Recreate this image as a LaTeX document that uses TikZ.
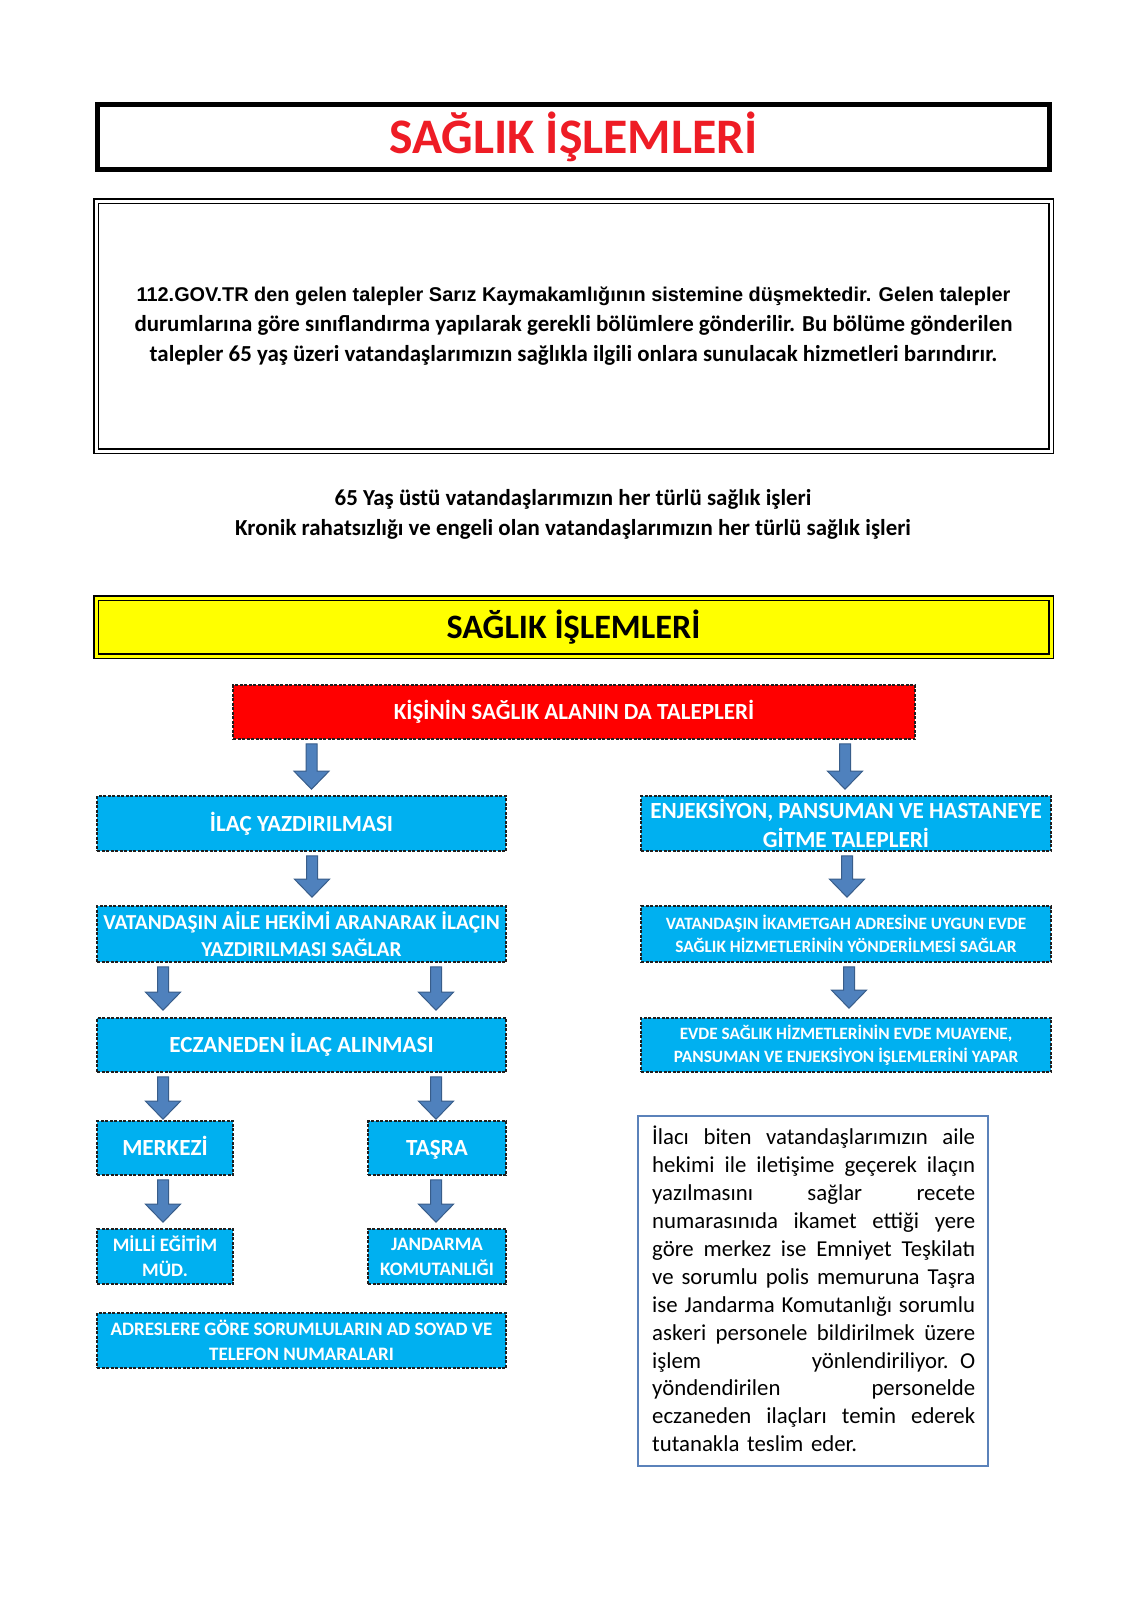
\documentclass[tikz,border=0pt]{standalone}
\usepackage{fontspec}
\setmainfont{Carlito}
\newfontfamily\arialfont{Liberation Sans}
\usetikzlibrary{calc}
\definecolor{boxblue}{HTML}{00B0F0}
\definecolor{arrfill}{HTML}{4F81BD}
\definecolor{arrdraw}{HTML}{385D8A}
\definecolor{titlered}{HTML}{EE1C25}
\definecolor{boxred}{HTML}{FF0000}
\definecolor{boxyellow}{HTML}{FFFF00}
\definecolor{dashcol}{HTML}{1E1E1E}
\definecolor{tframe}{HTML}{5B82BA}
\tikzset{
  flowbox/.style={rectangle, draw=dashcol, line width=1.6pt, dash pattern=on 3pt off 1.5pt,
    fill=boxblue, text=white, align=center, inner sep=0pt},
  oneline/.style={text height=19.5pt, text depth=4pt},
  bigtxt/.style={font=\bfseries\fontsize{23.1}{29}\selectfont},
  midtxt/.style={font=\bfseries\fontsize{21.3}{27}\selectfont},
  smtxt/.style={font=\bfseries\fontsize{19}{25}\selectfont},
  tinytxt/.style={font=\bfseries\fontsize{17.3}{23}\selectfont},
  blockarrow/.style={fill=arrfill, draw=arrdraw, line width=1pt, line join=miter},
}
% #1 x position, #2 upper node, #3 lower node, #4 gap above lower node
\newcommand\barrow[4]{%
  \path[blockarrow] let \p1=(#2.south), \p2=(#3.north) in
    (#1pt-5.5pt,\y1-4pt) -- (#1pt+5.5pt,\y1-4pt) -- (#1pt+5.5pt,\y2+#4pt+18pt)
    -- (#1pt+17.5pt,\y2+#4pt+18pt) -- (#1pt,\y2+#4pt) -- (#1pt-17.5pt,\y2+#4pt+18pt)
    -- (#1pt-5.5pt,\y2+#4pt+18pt) -- cycle;}
\newcommand\jl[1]{\makebox[323pt][s]{\spaceskip=0.23em plus 20em minus 0.05em\relax #1}\\}
\begin{document}
\begin{tikzpicture}[x=1pt,y=-1pt]
\useasboundingbox[fill=white] (0,0) rectangle (1131,1600);

% header
\node[draw=black, line width=5pt, minimum width=952pt, minimum height=65pt, inner sep=0pt,
  text=titlered, font=\bfseries\fontsize{49.7}{54}\selectfont] (title) at (573.5,137) {SAĞLIK İŞLEMLERİ};

\node[draw=black, double=white, double distance=3pt, line width=1.1pt,
  minimum width=955pt, minimum height=250pt, inner sep=0pt, align=center,
  font=\bfseries\fontsize{22.9}{30}\selectfont] (intro) at (573.5,326)
  {{\arialfont\fontsize{19.9}{30}\selectfont 112.GOV.TR den gelen talepler Sarız Kaymakamlığının sistemine düşmektedir. Gelen talepler}\\
   durumlarına göre sınıflandırma yapılarak gerekli bölümlere gönderilir. Bu bölüme gönderilen\\
   talepler 65 yaş üzeri vatandaşlarımızın sağlıkla ilgili onlara sunulacak hizmetleri barındırır.};

\node[align=center, inner sep=0pt, font=\bfseries\fontsize{22.9}{30}\selectfont] (scope65) at (573,514)
  {65 Yaş üstü vatandaşlarımızın her türlü sağlık işleri\\
   Kronik rahatsızlığı ve engeli olan vatandaşlarımızın her türlü sağlık işleri};

\node[draw=black, double=boxyellow, double distance=3pt, line width=1.2pt, fill=boxyellow,
  minimum width=955pt, minimum height=58pt, inner sep=0pt,
  font=\bfseries\fontsize{34.2}{38}\selectfont] (yellow) at (573.5,627) {SAĞLIK İŞLEMLERİ};

% flow
\node[flowbox, oneline, fill=boxred, minimum width=682pt, minimum height=54pt, bigtxt] (req) at (574,712)
  {KİŞİNİN SAĞLIK ALANIN DA TALEPLERİ};

\node[flowbox, oneline, minimum width=409pt, minimum height=55pt, bigtxt] (ilac) at (301.5,823.5) {İLAÇ YAZDIRILMASI};
\node[flowbox, minimum width=410pt, minimum height=55pt, bigtxt] (enj) at (846,823.5)
  {ENJEKSİYON, PANSUMAN VE HASTANEYE\\GİTME TALEPLERİ};

\node[flowbox, minimum width=409pt, minimum height=56pt, midtxt] (aile) at (301.5,934)
  {VATANDAŞIN AİLE HEKİMİ ARANARAK İLAÇIN\\YAZDIRILMASI SAĞLAR};
\node[flowbox, minimum width=410pt, minimum height=56pt, tinytxt] (ikamet) at (846,934)
  {VATANDAŞIN İKAMETGAH ADRESİNE UYGUN EVDE\\SAĞLIK HİZMETLERİNİN YÖNDERİLMESİ SAĞLAR};

\node[flowbox, oneline, minimum width=409pt, minimum height=54pt, bigtxt] (ecz) at (301.5,1045) {ECZANEDEN İLAÇ ALINMASI};
\node[flowbox, minimum width=410pt, minimum height=54pt, tinytxt] (evde) at (846,1045)
  {EVDE SAĞLIK HİZMETLERİNİN EVDE MUAYENE,\\PANSUMAN VE ENJEKSİYON İŞLEMLERİNİ YAPAR};

\node[flowbox, oneline, minimum width=136pt, minimum height=54pt, bigtxt] (merk) at (165,1148) {MERKEZİ};
\node[flowbox, oneline, minimum width=138pt, minimum height=54pt, bigtxt] (tasra) at (437,1148) {TAŞRA};

\node[flowbox, minimum width=136pt, minimum height=55pt, smtxt] (milli) at (165,1256.5) {MİLLİ EĞİTİM\\MÜD.};
\node[flowbox, minimum width=138pt, minimum height=55pt, smtxt] (jand) at (437,1256.5) {JANDARMA\\KOMUTANLIĞI};

\node[flowbox, minimum width=409pt, minimum height=55pt, smtxt] (adres) at (301.5,1340.5)
  {ADRESLERE GÖRE SORUMLULARIN AD SOYAD VE\\TELEFON NUMARALARI};

% note box
\node[draw=tframe, line width=1.6pt, minimum width=350pt, minimum height=350pt, inner sep=0pt] (note) at (813,1291) {};
\node[anchor=north west, inner sep=0pt, text width=323pt, align=left,
  font=\fontsize{22.8}{27.9}\selectfont] (notetext) at (652,1126)
  {\jl{İlacı biten vatandaşlarımızın aile}
   \jl{hekimi ile iletişime geçerek ilaçın}
   \jl{yazılmasını sağlar recete}
   \jl{numarasınıda ikamet ettiği yere}
   \jl{göre merkez ise Emniyet Teşkilatı}
   \jl{ve sorumlu polis memuruna Taşra}
   \jl{ise Jandarma Komutanlığı sorumlu}
   \jl{askeri personele bildirilmek üzere}
   \jl{işlem yönlendiriliyor. O}
   \jl{yöndendirilen personelde}
   \jl{eczaneden ilaçları temin ederek}
   tutanakla teslim eder.};

% arrows
\barrow{311.5}{req}{ilac}{6}
\barrow{845}{req}{enj}{6}
\barrow{312}{ilac}{aile}{8}
\barrow{847}{enj}{ikamet}{8}
\barrow{163}{aile}{ecz}{7}
\barrow{436}{aile}{ecz}{7}
\barrow{849}{ikamet}{evde}{9}
\barrow{163}{ecz}{merk}{1}
\barrow{436}{ecz}{tasra}{1}
\barrow{163}{merk}{milli}{6}
\barrow{436}{tasra}{jand}{6}
\end{tikzpicture}
\end{document}
